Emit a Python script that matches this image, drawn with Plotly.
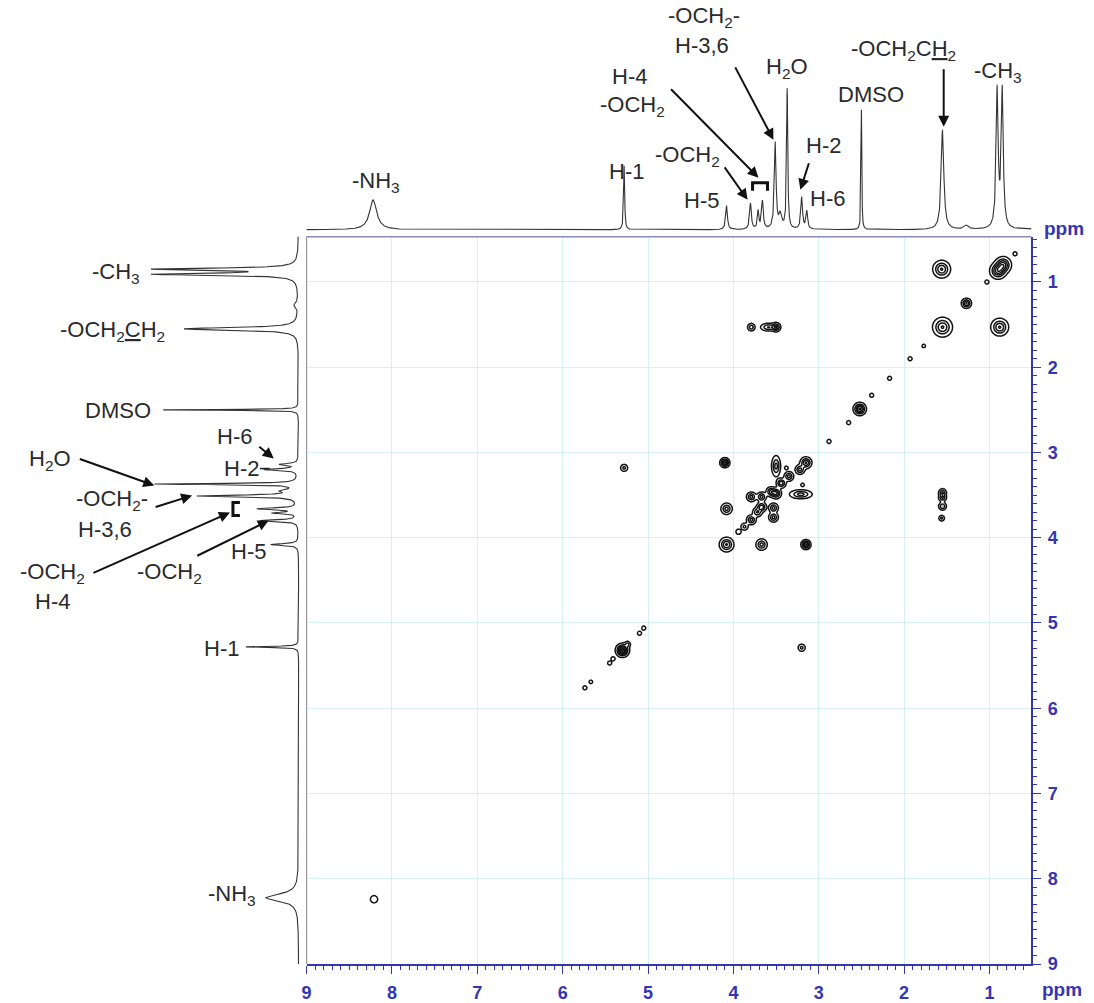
import numpy as np
import plotly.graph_objects as go

W, H = 1094, 1003
HE = 993  # effective rendered height used for paper-coordinate conversion

# ---------------- 1D spectrum (projection) peak list ----------------
spec_ppm = [8.22, 5.28, 4.08, 3.80, 3.71, 3.66, 3.51, 3.45, 3.37, 3.20, 3.14, 2.50, 1.55, 1.27, 0.91, 0.85]
spec_height_top = [30, 64, 24, 26, 18, 28, 86, 14, 140, 32, 18, 120, 100, 4, 138, 138]
spec_height_left = [33, 53, 28, 38, 24, 40, 100, 14, 143, 34, 18, 136, 115, 4, 141, 141]
spec_hwhm = [0.05, 0.007, 0.012, 0.012, 0.010, 0.012, 0.012, 0.020, 0.008, 0.012, 0.012, 0.005, 0.018, 0.030, 0.014, 0.014]

# ---------------- 2D COSY cross / diagonal peaks ----------------
pk_x = [0.90, 0.84, 1.27, 1.55, 1.56, 0.88, 2.52, 5.30, 5.24, 8.21, 4.08,
        3.15, 3.22, 3.35, 3.44, 3.50, 3.56, 3.67, 3.79, 3.53, 3.53, 3.67, 3.79, 3.87, 3.94, 3.72,
        4.10, 4.08, 3.67, 3.15, 3.50, 3.38, 3.21, 3.19,
        3.79, 3.59, 3.50, 1.55, 1.55, 1.55, 1.56, 5.28, 3.20,
        0.70, 1.03, 1.77, 1.93, 2.17, 2.38, 2.65, 2.88, 5.10, 5.05, 5.41, 5.45, 5.67, 5.74]
pk_y = [0.87, 0.80, 1.25, 1.53, 0.85, 1.53, 2.49, 5.32, 5.25, 8.24, 4.08,
        3.12, 3.20, 3.28, 3.36, 3.48, 3.46, 3.52, 3.52, 3.65, 3.76, 3.64, 3.79, 3.87, 3.93, 3.70,
        3.12, 3.66, 4.08, 4.08, 3.16, 3.18, 3.49, 3.38,
        1.53, 1.53, 1.53, 3.47, 3.53, 3.63, 3.77, 3.18, 5.29,
        0.67, 1.00, 1.75, 1.90, 2.13, 2.33, 2.65, 2.87, 5.12, 5.06, 5.42, 5.47, 5.69, 5.76]
pk_amp = [1.1, 1.1, 1.0, 1.0, 1.0, 1.0, 1.3, 1.6, 0.5, 0.35, 1.0,
          1.0, 0.8, 0.8, 0.9, 1.0, 0.8, 0.8, 0.8, 0.8, 0.8, 0.9, 0.8, 0.5, 0.4, 0.7,
          1.3, 0.8, 0.8, 1.3, 0.8, 0.25, 0.8, 0.25,
          0.6, 0.7, 0.9, 0.7, 0.7, 0.7, 0.5, 0.5, 0.5,
          0.3, 0.3, 0.25, 0.3, 0.3, 0.3, 0.3, 0.3, 0.3, 0.3, 0.3, 0.3, 0.25, 0.3]
pk_sx = [0.048, 0.048, 0.03, 0.058, 0.052, 0.052, 0.037, 0.038, 0.02, 0.03, 0.043,
         0.035, 0.03, 0.03, 0.03, 0.032, 0.03, 0.03, 0.03, 0.03, 0.03, 0.03, 0.03, 0.025, 0.02, 0.03,
         0.028, 0.035, 0.035, 0.028, 0.028, 0.018, 0.07, 0.018,
         0.025, 0.05, 0.028, 0.025, 0.025, 0.025, 0.02, 0.025, 0.025,
         0.018, 0.018, 0.018, 0.018, 0.018, 0.018, 0.018, 0.018, 0.018, 0.018, 0.018, 0.018, 0.018, 0.018]
pk_sy = [0.048, 0.048, 0.03, 0.058, 0.052, 0.052, 0.037, 0.038, 0.02, 0.03, 0.043,
         0.035, 0.03, 0.03, 0.03, 0.032, 0.03, 0.03, 0.03, 0.03, 0.03, 0.03, 0.03, 0.025, 0.02, 0.03,
         0.028, 0.035, 0.035, 0.028, 0.065, 0.018, 0.028, 0.018,
         0.025, 0.025, 0.028, 0.025, 0.025, 0.025, 0.02, 0.025, 0.025,
         0.018, 0.018, 0.018, 0.018, 0.018, 0.018, 0.018, 0.018, 0.018, 0.018, 0.018, 0.018, 0.018, 0.018]

tick_vals = [1, 2, 3, 4, 5, 6, 7, 8, 9]
tick_text = ["1", "2", "3", "4", "5", "6", "7", "8", "9"]

# ---------------- build traces ----------------
ppm = np.arange(0.40, 9.20, 0.002)


def spectrum(heights):
    s = np.zeros_like(ppm)
    for p0, h0, w0 in zip(spec_ppm, heights, spec_hwhm):
        s += h0 / (1 + ((ppm - p0) / w0) ** 2)
    return s


def surface(xg, yg):
    X, Y = np.meshgrid(xg, yg)
    Z = np.zeros_like(X)
    for x0, y0, a, sx, sy in zip(pk_x, pk_y, pk_amp, pk_sx, pk_sy):
        Z += a * np.exp(-((X - x0) ** 2 / (2 * sx ** 2) + (Y - y0) ** 2 / (2 * sy ** 2)))
    return Z


xg1 = np.arange(0.50, 6.0, 0.01)
yg1 = np.arange(0.45, 6.0, 0.01)
xg2 = np.arange(7.9, 8.6, 0.01)
yg2 = np.arange(7.9, 8.6, 0.01)

contour_style = dict(contours=dict(coloring="lines", start=0.13, end=3.0, size=0.28),
                     line=dict(width=1.5),
                     colorscale=[[0, "#111"], [1, "#111"]],
                     showscale=False, hoverinfo="skip")

fig = go.Figure()
fig.add_trace(go.Contour(x=xg1, y=yg1, z=surface(xg1, yg1), xaxis="x", yaxis="y", **contour_style))
fig.add_trace(go.Contour(x=xg2, y=yg2, z=surface(xg2, yg2), xaxis="x", yaxis="y", **contour_style))
fig.add_trace(go.Scatter(x=ppm, y=spectrum(spec_height_top), mode="lines", line=dict(color="#333", width=1.1),
                         xaxis="x2", yaxis="y2", hoverinfo="skip"))
fig.add_trace(go.Scatter(x=spectrum(spec_height_left), y=ppm, mode="lines", line=dict(color="#333", width=1.1),
                         xaxis="x3", yaxis="y3", hoverinfo="skip"))


def px(x):
    return x / W


def py(y):
    return 1 - y / HE


X0, X1 = px(303), px(1031)
Y0, Y1 = py(965), py(237)
BLUE = "#3535b0"
GRID = "#d6f1f1"
tickfont = dict(family="Arial, Liberation Sans", size=18, color=BLUE)
bold_ticks = ["<b>" + t + "</b>" for t in tick_text]

fig.update_layout(
    width=W, height=H, margin=dict(l=0, r=0, t=0, b=0),
    paper_bgcolor="white", plot_bgcolor="white", showlegend=False,
    xaxis=dict(domain=[X0, X1], anchor="y", range=[9, 0.51], tickvals=tick_vals, ticktext=bold_ticks,
               ticks="outside", ticklen=8, tickcolor=BLUE, showline=True, linecolor=BLUE, linewidth=1.5,
               showgrid=True, gridcolor=GRID, zeroline=False, tickfont=tickfont, ticklabelstandoff=4,
               minor=dict(dtick=0.1, ticks="outside", ticklen=4, tickcolor=BLUE, showgrid=False)),
    yaxis=dict(domain=[Y0, Y1], anchor="x", side="right", range=[9, 0.47], tickvals=tick_vals,
               ticktext=bold_ticks, ticks="outside", ticklen=8, tickcolor=BLUE, showline=True,
               linecolor=BLUE, linewidth=1.5, showgrid=True, gridcolor=GRID, zeroline=False,
               tickfont=tickfont, ticklabelstandoff=3,
               minor=dict(dtick=0.1, ticks="outside", ticklen=4, tickcolor=BLUE, showgrid=False)),
    xaxis2=dict(domain=[X0, X1], anchor="y2", matches="x", visible=False),
    yaxis2=dict(domain=[Y1, 1], anchor="x2", range=[-7, 230], visible=False),
    xaxis3=dict(domain=[0, px(301)], anchor="y3", range=[295, -6], visible=False),
    yaxis3=dict(domain=[Y0, Y1], anchor="x3", matches="y", visible=False),
)

# frame edges (top / left) of the 2D panel
fig.add_shape(type="line", xref="paper", yref="paper", x0=X0, x1=X1, y0=Y1, y1=Y1,
              line=dict(color="#8a8ab8", width=1.5))
fig.add_shape(type="line", xref="paper", yref="paper", x0=X0, x1=X0, y0=Y0, y1=Y1,
              line=dict(color="#999", width=1.2))

TXT = dict(family="Arial, Liberation Sans", size=22, color="#2a2a2a")
U = '<span style="text-decoration:underline">{}</span>'
labels = [
    ("-NH<sub>3</sub>", 373, 182), ("H-1", 624, 172), ("H-5", 700, 201), ("-OCH<sub>2</sub>", 686, 156),
    ("H-4", 627, 77), ("-OCH<sub>2</sub>", 630, 106), ("-OCH<sub>2</sub>-", 702, 17), ("H-3,6", 700, 46),
    ("H<sub>2</sub>O", 786, 68), ("DMSO", 870, 95), ("H-2", 822, 146), ("H-6", 826, 199),
    ("-OCH<sub>2</sub>C" + U.format("H") + "<sub>2</sub>", 903, 50), ("-CH<sub>3</sub>", 998, 72),
    ("-CH<sub>3</sub>", 112, 273), ("-OCH<sub>2</sub>" + U.format("C") + "H<sub>2</sub>", 108, 331),
    ("DMSO", 114, 411), ("H-6", 231, 437), ("H-2", 238, 469), ("H<sub>2</sub>O", 45, 460),
    ("-OCH<sub>2</sub>-", 107, 501), ("H-3,6", 100, 530), ("-OCH<sub>2</sub>", 48, 574), ("H-4", 48, 602),
    ("-OCH<sub>2</sub>", 165, 574), ("H-5", 245, 552), ("H-1", 217, 649), ("-NH<sub>3</sub>", 228, 896),
]
annotations = []
for t, x, y in labels:
    annotations.append(dict(text=t, x=px(x), y=py(y), xref="paper", yref="paper", showarrow=False,
                            xanchor="center", yanchor="middle", font=TXT))

for t, x, y in [("ppm", 1064, 229), ("ppm", 1062, 990)]:
    annotations.append(dict(text="<b>" + t + "</b>", x=px(x), y=py(y), xref="paper", yref="paper",
                            showarrow=False, xanchor="center", yanchor="middle",
                            font=dict(family="Arial, Liberation Sans", size=19, color=BLUE)))

# arrows: (tail x, tail y, head x, head y)
arrows = [(733, 66, 772, 140), (668, 88, 757, 178), (722, 166, 746, 200), (808, 162, 799, 190),
          (943, 68, 943, 127), (254, 446, 270, 459), (74, 459, 150, 486), (150, 508, 188, 496),
          (88, 574, 226, 513), (192, 557, 265, 521)]
for tx, ty, hx, hy in arrows:
    annotations.append(dict(text="", x=px(hx), y=py(hy), xref="paper", yref="paper", showarrow=True,
                            ax=tx - hx, ay=ty - hy, arrowhead=2, arrowsize=1.1, arrowwidth=2,
                            arrowcolor="#111"))
fig.update_layout(annotations=annotations)

# brackets
fig.add_shape(type="path", xref="paper", yref="paper",
              path=f"M {px(751)} {py(191)} L {px(751)} {py(183)} L {px(766)} {py(183)} L {px(766)} {py(191)}",
              line=dict(color="#111", width=3))
fig.add_shape(type="path", xref="paper", yref="paper",
              path=f"M {px(236)} {py(503)} L {px(229)} {py(503)} L {px(229)} {py(516)} L {px(236)} {py(516)}",
              line=dict(color="#111", width=3))
# short leader line after left "H-2"
fig.add_shape(type="line", xref="paper", yref="paper", x0=px(256), y0=py(469), x1=px(266), y1=py(469),
              line=dict(color="#222", width=1.5))

fig.write_html("out.html", config={"displayModeBar": False},
               post_script="document.body.style.margin='0';")
